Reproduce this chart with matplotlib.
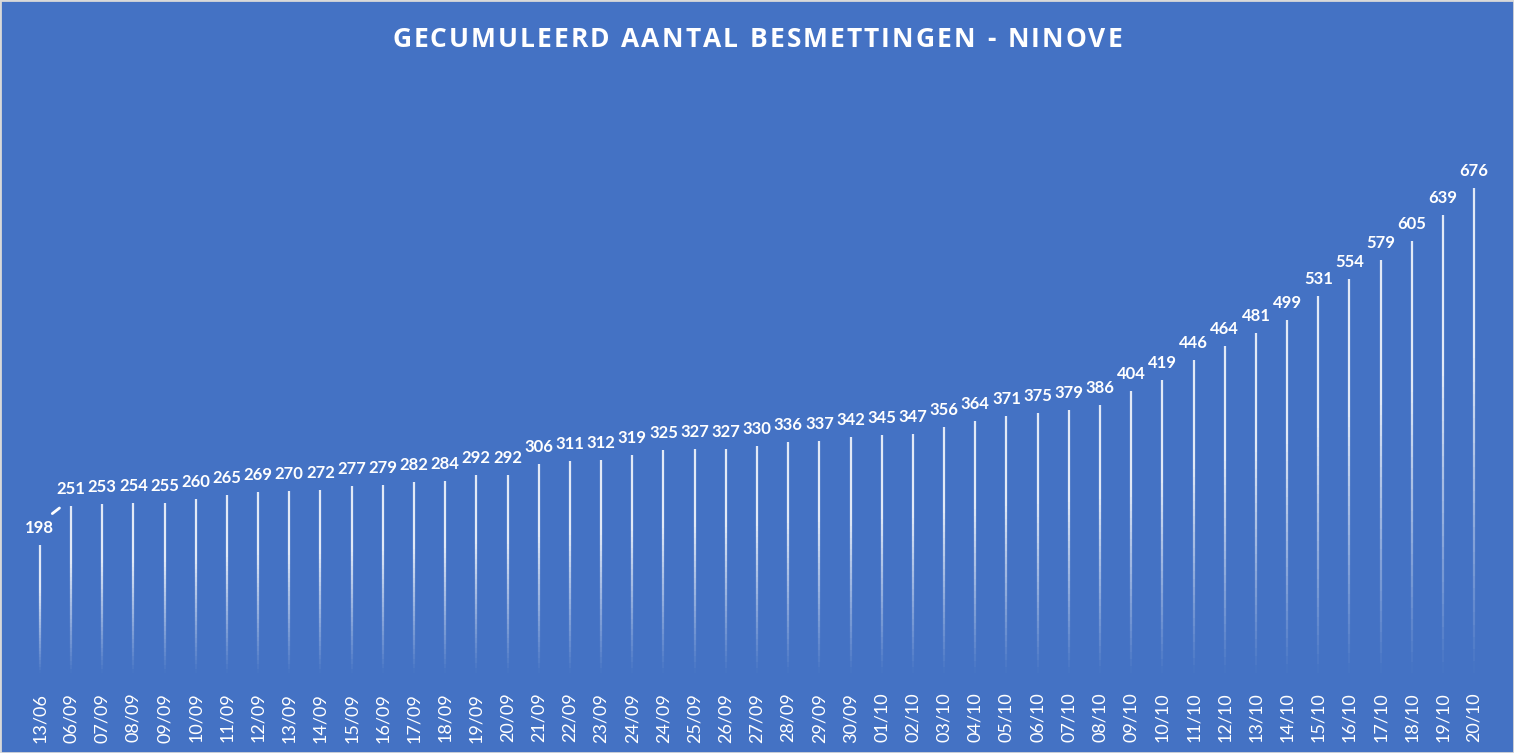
import numpy as np
import matplotlib
matplotlib.use("Agg")
import matplotlib.pyplot as plt
from matplotlib.collections import LineCollection

dates = ["13/06", "06/09", "07/09", "08/09", "09/09", "10/09", "11/09", "12/09", "13/09", "14/09",
         "15/09", "16/09", "17/09", "18/09", "19/09", "20/09", "21/09", "22/09", "23/09", "24/09",
         "24/09", "25/09", "26/09", "27/09", "28/09", "29/09", "30/09", "01/10", "02/10", "03/10",
         "04/10", "05/10", "06/10", "07/10", "08/10", "09/10", "10/10", "11/10", "12/10", "13/10",
         "14/10", "15/10", "16/10", "17/10", "18/10", "19/10", "20/10"]
cases = [198, 251, 253, 254, 255, 260, 265, 269, 270, 272,
         277, 279, 282, 284, 292, 292, 306, 311, 312, 319,
         325, 327, 327, 330, 336, 337, 342, 345, 347, 356,
         364, 371, 375, 379, 386, 404, 419, 446, 464, 481,
         499, 531, 554, 579, 605, 639, 676]
title = "GECUMULEERD AANTAL BESMETTINGEN - NINOVE"

bg = '#4472C4'
fig = plt.figure(figsize=(15.14, 7.53), dpi=100, facecolor=bg)
ax = fig.add_axes([0.016, 0.106, 0.968, 0.788])
ax.set_facecolor(bg)

x = np.arange(len(cases))
ymin, ymax = 27, 820

# thin lines fading out toward the bottom
segs, cols = [], []
nseg = 40
for xi, v in zip(x, cases):
    edges = np.linspace(ymin, v, nseg + 1)
    for k in range(nseg):
        segs.append([(xi, edges[k]), (xi, edges[k + 1])])
        a = min(1.0, (k + 0.5) / nseg * 1.5) * 0.85
        cols.append((1, 1, 1, a))
ax.add_collection(LineCollection(segs, colors=cols, linewidths=1.6))

for i, v in enumerate(cases):
    ax.annotate(str(v), (x[i], v), xytext=(0, 6.5), textcoords='offset points',
                ha='center', va='bottom', color='white', fontsize=12,
                fontweight='bold', family='Lato')
# leader line of the moved first label
ax.annotate('', xy=(x[0] + 0.7, cases[1] - 1), xytext=(x[0] + 0.33, cases[0] + 40),
            arrowprops=dict(arrowstyle='-', color='white', lw=2))

ax.set_xlim(-0.5, len(cases) - 0.5)
ax.set_ylim(ymin, ymax)
ax.set_xticks(x)
ax.set_xticklabels(dates, rotation=90, color='white', fontsize=13, family='Lato')
ax.tick_params(axis='x', length=0, pad=14)
ax.set_yticks([])
for s in ax.spines.values():
    s.set_visible(False)

# title with letter spacing, drawn one character at a time
renderer = fig.canvas.get_renderer()
tprops = dict(color='white', fontsize=19, fontweight='bold', family='Open Sans',
              va='center', ha='left')
W = fig.get_figwidth() * fig.dpi
widths = []
for ch in title:
    t = fig.text(0, 0, 'i' if ch == ' ' else ch, **tprops)
    widths.append(t.get_window_extent(renderer).width)
    t.remove()
target = 730
gap = (target - sum(widths)) / (len(title) - 1)
xpos = (W - target) / 2
for ch, w in zip(title, widths):
    if ch != ' ':
        fig.text(xpos / W, 0.948, ch, **tprops)
    xpos += w + gap

fig.patches.append(plt.Rectangle((0, 0), 1, 1, transform=fig.transFigure, fill=False,
                                 edgecolor='#d9d9d9', linewidth=2))
fig.savefig('out.png', dpi=100, facecolor=bg)
